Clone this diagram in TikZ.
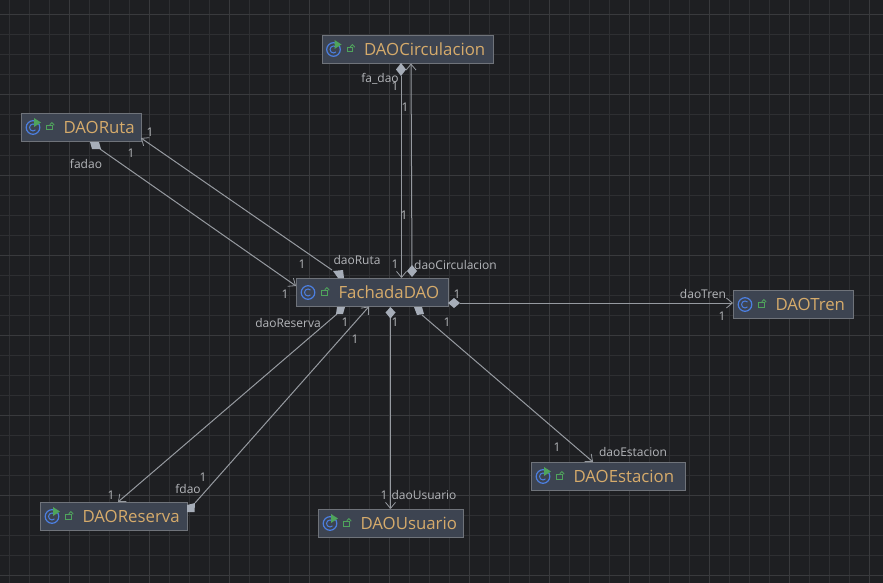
\documentclass[tikz,border=0pt]{standalone}
\usepackage{fontspec}
\setmainfont{Open Sans}
\usetikzlibrary{arrows.meta}
\definecolor{bgc}{HTML}{1E1F22}
\definecolor{gridminor}{HTML}{2E2F32}
\definecolor{gridmajor}{HTML}{393A3D}
\definecolor{boxfill}{HTML}{3D4451}
\definecolor{boxline}{HTML}{6F737A}
\definecolor{title}{HTML}{D6AB6B}
\definecolor{edge}{HTML}{969AA0}
\definecolor{dia}{HTML}{A6ADB8}
\definecolor{lab}{HTML}{B4B6BA}
\definecolor{iconblue}{HTML}{4C7FE0}
\definecolor{icongreen}{HTML}{4FA45C}
\tikzset{
  classbox/.style={draw=boxline,fill=boxfill,line width=1pt,anchor=north west,inner sep=0pt,
    minimum height=28pt,align=left,text=title,font=\fontsize{16.8}{19}\selectfont},
  link/.style={draw=edge,line width=1pt,-{Straight Barb[length=6pt,width=10pt,line width=0.8pt]}},
  diam/.style={fill=dia,draw=none},
  lbl/.style={text=lab,font=\fontsize{12}{14}\selectfont,inner sep=0pt},
  icn/.style={iconblue,line width=1.2pt},
}
% name, x, y, width, text
\newcommand{\classnode}[5]{%
  \node[classbox,text width=#4 pt,minimum width=#4 pt] (#1) at (#2,#3) {\hspace*{42pt}#5};%
  \draw[icongreen,line width=1pt] ([shift={(25.7,12.5)}]#1.north west) rectangle ([shift={(31,17)}]#1.north west);%
  \draw[icongreen,line width=0.9pt] ([shift={(29,12.5)}]#1.north west) -- ++(0,-1) arc[start angle=180,end angle=360,radius=1.9] -- ++(0,0.8);%
}
\newcommand{\plainicon}[1]{%
  \draw[icn] ([shift={(12,14.5)}]#1.north west) circle[radius=6.8];%
  \draw[icn,line width=1pt] ([shift={(14.5,12)}]#1.north west) arc[start angle=-45,end angle=-315,radius=3.5];%
}
\newcommand{\runicon}[1]{%
  \draw[icn] ([shift={(12,14.5)}]#1.north west) circle[radius=6.8];%
  \draw[icn,line width=1pt] ([shift={(14.5,12)}]#1.north west) arc[start angle=-45,end angle=-315,radius=3.5];%
  \fill[icongreen] ([shift={(13,5)}]#1.north west) -- ([shift={(20,9.5)}]#1.north west) -- ([shift={(13,14)}]#1.north west) -- cycle;%
}
\begin{document}
\begin{tikzpicture}[x=1pt,y=-1pt]
\useasboundingbox (0,0) rectangle (883,583);
\fill[bgc] (0,0) rectangle (883,583);
\foreach \gx in {9,29,...,889} {\draw[gridminor,line width=1pt] (\gx,0) -- (\gx,583);}
\foreach \gy in {15,35,...,595} {\draw[gridminor,line width=1pt] (0,\gy) -- (883,\gy);}
\foreach \gx in {69,149,...,889} {\draw[gridmajor,line width=1pt] (\gx,0) -- (\gx,583);}
\foreach \gy in {15,95,...,595} {\draw[gridmajor,line width=1pt] (0,\gy) -- (883,\gy);}

\classnode{circ}{321.5}{35}{171}{DAOCirculacion}
\classnode{ruta}{21}{113}{120}{DAORuta}
\classnode{fach}{296}{278}{151.5}{FachadaDAO}
\classnode{tren}{733}{290}{120}{DAOTren}
\classnode{rese}{40}{502}{146.5}{DAOReserva}
\classnode{usua}{318}{509}{144.5}{DAOUsuario}
\classnode{esta}{531}{462}{153.5}{DAOEstacion}
\runicon{circ}\runicon{ruta}\plainicon{fach}\plainicon{tren}\runicon{rese}\runicon{usua}\runicon{esta}

% connectors
\draw[link] ([shift={(80,41)}]circ.north west) -- ([shift={(105.5,0)}]fach.north west);
\draw[link] ([shift={(116,-7)}]fach.north west) -- ([shift={(89.5,28.5)}]circ.north west);
\draw[link] ([shift={(79,36)}]ruta.north west) -- ([shift={(0,8)}]fach.north west);
\draw[link] ([shift={(36,-8)}]fach.north west) -- ([shift={(120,25)}]ruta.north west);
\draw[link] ([shift={(41,36)}]fach.north west) -- ([shift={(78,0)}]rese.north west);
\draw[link] ([shift={(155,1)}]rese.north west) -- ([shift={(73,28.5)}]fach.north west);
\draw[link] ([shift={(94.5,40)}]fach.north west) -- ([shift={(72.5,0)}]usua.north west);
\draw[link] ([shift={(126,37)}]fach.north west) -- ([shift={(62,0)}]esta.north west);
\draw[link] ([shift={(164,25)}]fach.north west) -- ([shift={(0,13)}]tren.north west);

% diamonds
\fill[diam] (401,63) -- (406,69.5) -- (401,76) -- (396,69.5) -- cycle;
\fill[diam] (412,265) -- (417,271) -- (412,277) -- (407,271) -- cycle;
\fill[diam] (390.5,307) -- (395.5,312.5) -- (390.5,318.5) -- (385.5,312.5) -- cycle;
\fill[diam] (448,303) -- (454,298) -- (460,303) -- (454,308) -- cycle;
\fill[diam] (333,271) -- (343,270) -- (344,278) -- (338,278) -- cycle;
\fill[diam] (337,307) -- (345,307) -- (343,314) -- (336,314) -- cycle;
\fill[diam] (414,307) -- (422,307) -- (424,314) -- (417,315) -- cycle;
\fill[diam] (90,142) -- (99,142) -- (101,149) -- (92,149) -- cycle;
\fill[diam] (187,505) -- (195,503) -- (194.5,512) -- (187,512) -- cycle;

% labels
\node[lbl] (l1) at (380,79) {fa\_dao};
\node[lbl] (l2) at (395,86) {1};
\node[lbl] (l3) at (405,107) {1};
\node[lbl] (l4) at (404,215) {1};
\node[lbl] (l5) at (395,264) {1};
\node[lbl] (l6) at (455.5,265) {daoCirculacion};
\node[lbl] (l7) at (150,132) {1};
\node[lbl] (l8) at (131,153) {1};
\node[lbl] (l9) at (86,164) {fadao};
\node[lbl] (l10) at (302,264) {1};
\node[lbl] (l11) at (357,260) {daoRuta};
\node[lbl] (l12) at (285,294) {1};
\node[lbl] (l13) at (288,323) {daoReserva};
\node[lbl] (l14) at (345,322) {1};
\node[lbl] (l15) at (355,339) {1};
\node[lbl] (l16) at (395,322) {1};
\node[lbl] (l17) at (447,322) {1};
\node[lbl] (l18) at (457,294) {1};
\node[lbl] (l19) at (703,294) {daoTren};
\node[lbl] (l20) at (722,316) {1};
\node[lbl] (l21) at (557,447) {1};
\node[lbl] (l22) at (633,452) {daoEstacion};
\node[lbl] (l23) at (384,495) {1};
\node[lbl] (l24) at (424,495) {daoUsuario};
\node[lbl] (l25) at (188,489) {fdao};
\node[lbl] (l26) at (203,477) {1};
\node[lbl] (l27) at (111,495) {1};
\end{tikzpicture}
\end{document}
